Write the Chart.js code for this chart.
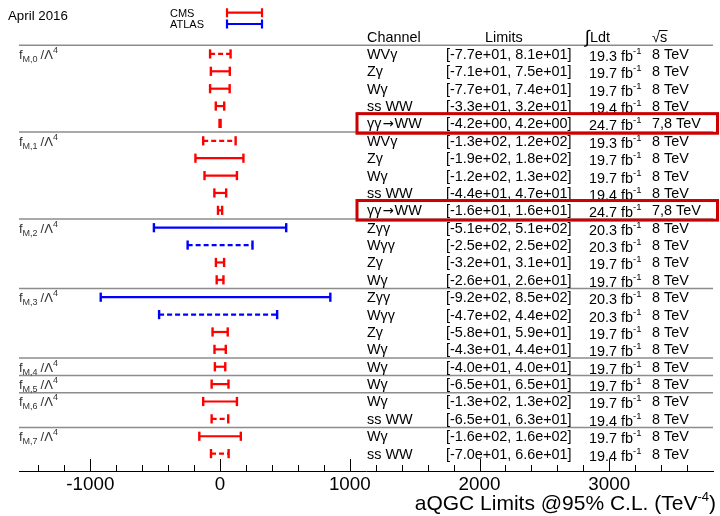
<!DOCTYPE html>
<html>
<head>
<meta charset="utf-8">
<script src="https://cdn.jsdelivr.net/npm/chart.js@4/dist/chart.umd.min.js"></script>
<style>
  html, body { margin: 0; padding: 0; background: #fff; }
  #wrap { width: 720px; height: 516px; }
</style>
</head>
<body>
<div id="wrap"><canvas id="aqgcChart"></canvas></div>
<script>
// operator groups and how many channel rows each one has
const groups = ["M,0", "M,1", "M,2", "M,3", "M,4", "M,5", "M,6", "M,7"];
const groupSizes = [5, 5, 4, 4, 1, 1, 2, 2];

// one entry per row, top to bottom
const channels = [
    "WV\u03b3", "Z\u03b3", "W\u03b3", "ss WW", "\u03b3\u03b3\u2192WW",
    "WV\u03b3", "Z\u03b3", "W\u03b3", "ss WW", "\u03b3\u03b3\u2192WW",
    "Z\u03b3\u03b3", "W\u03b3\u03b3", "Z\u03b3", "W\u03b3",
    "Z\u03b3\u03b3", "W\u03b3\u03b3", "Z\u03b3", "W\u03b3",
    "W\u03b3",
    "W\u03b3",
    "W\u03b3", "ss WW",
    "W\u03b3", "ss WW"
];
const lowLimits = [
    -77, -71, -77, -33, -4.2,
    -130, -190, -120, -44, -16,
    -510, -250, -32, -26,
    -920, -470, -58, -43,
    -40,
    -65,
    -130, -65,
    -160, -70
];
const highLimits = [
    81, 75, 74, 32, 4.2,
    120, 180, 130, 47, 16,
    510, 250, 31, 26,
    850, 440, 59, 44,
    40,
    65,
    130, 63,
    160, 66
];
const lumi = [
    19.3, 19.7, 19.7, 19.4, 24.7,
    19.3, 19.7, 19.7, 19.4, 24.7,
    20.3, 20.3, 19.7, 19.7,
    20.3, 20.3, 19.7, 19.7,
    19.7,
    19.7,
    19.7, 19.4,
    19.7, 19.4
];
const energy = [
    "8", "8", "8", "8", "7,8",
    "8", "8", "8", "8", "7,8",
    "8", "8", "8", "8",
    "8", "8", "8", "8",
    "8",
    "8",
    "8", "8",
    "8", "8"
];
const experiment = [
    "CMS", "CMS", "CMS", "CMS", "CMS",
    "CMS", "CMS", "CMS", "CMS", "CMS",
    "ATLAS", "ATLAS", "CMS", "CMS",
    "ATLAS", "ATLAS", "CMS", "CMS",
    "CMS",
    "CMS",
    "CMS", "CMS",
    "CMS", "CMS"
];
const dashed = [
    true, false, false, false, false,
    true, false, false, false, false,
    false, true, false, false,
    false, true, false, false,
    false,
    false,
    false, true,
    false, true
];
const highlighted = [
    false, false, false, false, true,
    false, false, false, false, true,
    false, false, false, false,
    false, false, false, false,
    false,
    false,
    false, false,
    false, false
];
const tickValues = [-1000, 0, 1000, 2000, 3000];
const minorStep = 200;

const FONT = '"Liberation Sans", Arial, Helvetica, sans-serif';
const SYMBOL_FONT = '"DejaVu Sans", sans-serif';
const colors = { CMS: "#ff0000", ATLAS: "#0000ff" };

function fmtExp(v) {
    const s = v.toExponential(1);
    const [m, e] = s.split("e");
    return m + "e" + e[0] + e.slice(1).padStart(2, "0");
}

// draws a run of text pieces with their own size, font and vertical shift
function drawRich(ctx, x, y, parts, color) {
    ctx.fillStyle = color;
    ctx.textBaseline = "alphabetic";
    ctx.textAlign = "left";
    parts.forEach(p => {
        ctx.font = p.size + "px " + (p.family || FONT);
        ctx.fillText(p.t, x, y + (p.dy || 0));
        x += ctx.measureText(p.t).width + (p.gap || 0);
    });
    return x;
}

// channel names: the arrow is taken from DejaVu so it is as wide as in the original
function channelParts(name, size) {
    const bits = name.split("\u2192");
    if (bits.length === 1) return [{ t: name, size: size }];
    return [
        { t: bits[0], size: size, gap: 1 },
        { t: "\u2192", size: size - 1, family: SYMBOL_FONT, gap: 1 },
        { t: bits[1], size: size }
    ];
}

function drawInterval(ctx, x1, x2, y, color) {
    ctx.strokeStyle = color;
    ctx.lineWidth = 2.2;
    ctx.beginPath();
    ctx.moveTo(x1, y); ctx.lineTo(x2, y);
    ctx.moveTo(x1, y - 4.5); ctx.lineTo(x1, y + 4.5);
    ctx.moveTo(x2, y - 4.5); ctx.lineTo(x2, y + 4.5);
    ctx.stroke();
}

const datasets = channels.map((ch, i) => {
    const c = colors[experiment[i]];
    return {
        label: ch,
        data: [{ x: lowLimits[i], y: i + 1 }, { x: highLimits[i], y: i + 1 }],
        showLine: true,
        borderColor: c,
        borderWidth: 2.2,
        borderDash: dashed[i] ? [5, 3] : [],
        pointStyle: "line",
        rotation: 90,
        pointRadius: 4.6,
        pointHoverRadius: 4.6,
        pointBorderWidth: 2.4,
        pointBorderColor: c,
        pointBackgroundColor: c
    };
});

const tableLayout = { channel: 367, limits: 446, lumi: 589, energy: 652, boxLeft: 357 };

const tablePlugin = {
    id: "tablePlugin",
    beforeDatasetsDraw(chart) {
        const { ctx, chartArea, scales: { x, y } } = chart;
        ctx.save();
        // header line and group separators
        ctx.strokeStyle = "#8c8c8c";
        ctx.lineWidth = 1.5;
        const seps = [0.5];
        let r = 0;
        groupSizes.forEach(n => { r += n; if (r < channels.length) seps.push(r + 0.5); });
        seps.forEach(v => {
            const py = y.getPixelForValue(v);
            ctx.beginPath();
            ctx.moveTo(chartArea.left, py);
            ctx.lineTo(chartArea.right, py);
            ctx.stroke();
        });
        // ticks pointing up from the axis
        ctx.strokeStyle = "#000";
        ctx.lineWidth = 1;
        const first = Math.ceil(x.min / minorStep) * minorStep;
        for (let v = first; v < x.max; v += minorStep) {
            const px = Math.round(x.getPixelForValue(v)) + 0.5;
            const len = v % 1000 === 0 ? 12 : 6;
            ctx.beginPath();
            ctx.moveTo(px, chartArea.bottom);
            ctx.lineTo(px, chartArea.bottom - len);
            ctx.stroke();
        }
        ctx.restore();
    },
    afterDatasetsDraw(chart) {
        const { ctx, scales: { y } } = chart;
        ctx.save();
        const textSize = 14.4;
        // header
        const hy = y.getPixelForValue(0) + 5.5;
        drawRich(ctx, tableLayout.channel, hy, [{ t: "Channel", size: textSize }], "#000");
        drawRich(ctx, 485, hy, [{ t: "Limits", size: textSize }], "#000");
        drawRich(ctx, tableLayout.lumi - 4, hy, [{ t: "\u222b", size: 18, dy: 1 }, { t: "Ldt", size: textSize }], "#000");
        const sx = drawRich(ctx, tableLayout.energy, hy, [{ t: "\u221a", size: textSize }], "#000");
        ctx.font = textSize + "px " + FONT;
        const sw = ctx.measureText("s").width;
        ctx.fillText("s", sx, hy);
        ctx.strokeStyle = "#000";
        ctx.lineWidth = 1;
        ctx.beginPath();
        ctx.moveTo(sx - 1, hy - 11.5);
        ctx.lineTo(sx + sw + 0.5, hy - 11.5);
        ctx.stroke();

        // rows
        channels.forEach((ch, i) => {
            const cy = y.getPixelForValue(i + 1);
            const by = cy + 5;
            drawRich(ctx, tableLayout.channel, by, channelParts(ch, textSize), "#000");
            drawRich(ctx, tableLayout.limits, by,
                [{ t: "[" + fmtExp(lowLimits[i]) + ", " + fmtExp(highLimits[i]) + "]", size: textSize }], "#000");
            drawRich(ctx, tableLayout.lumi, by + 2,
                [{ t: lumi[i].toFixed(1) + " fb", size: textSize }, { t: "-1", size: 9.5, dy: -7 }], "#000");
            drawRich(ctx, tableLayout.energy, by, [{ t: energy[i] + " TeV", size: textSize }], "#000");
            if (highlighted[i]) {
                ctx.strokeStyle = "#cc0000";
                ctx.lineWidth = 3;
                ctx.strokeRect(tableLayout.boxLeft, cy - 9.8, chart.width - 2.5 - tableLayout.boxLeft, 19.6);
            }
        });

        // group labels
        let start = 1;
        groups.forEach((g, k) => {
            const gy = y.getPixelForValue(start) + 5;
            drawRich(ctx, 19, gy, [
                { t: "f", size: 13 },
                { t: g, size: 9, dy: 3, gap: 3 },
                { t: "/\u039b", size: 13 },
                { t: "4", size: 9, dy: -6 }
            ], "#333");
            start += groupSizes[k];
        });
        ctx.restore();
    },
    afterDraw(chart) {
        const { ctx } = chart;
        ctx.save();
        // date
        drawRich(ctx, 8, 19.5, [{ t: "April 2016", size: 13.3 }], "#000");
        // legend
        drawRich(ctx, 170, 16.5, [{ t: "CMS", size: 11 }], "#000");
        drawRich(ctx, 170, 28, [{ t: "ATLAS", size: 11 }], "#000");
        drawInterval(ctx, 227, 262, 12.7, colors.CMS);
        drawInterval(ctx, 227, 262, 24, colors.ATLAS);
        // axis title, right aligned
        const main = "aQGC Limits @95% C.L. (TeV";
        ctx.font = "13px " + FONT;
        const supW = ctx.measureText("-4").width;
        ctx.font = "21px " + FONT;
        const total = ctx.measureText(main).width + supW + ctx.measureText(")").width;
        drawRich(ctx, chart.width - 4 - total, 510, [
            { t: main, size: 21 },
            { t: "-4", size: 13, dy: -9 },
            { t: ")", size: 21 }
        ], "#000");
        ctx.restore();
    }
};

new Chart(document.getElementById("aqgcChart").getContext("2d"), {
    type: "scatter",
    data: { datasets: datasets },
    options: {
        responsive: true,
        maintainAspectRatio: false,
        animation: false,
        layout: { padding: { left: 19, right: 7, top: 0, bottom: 0 } },
        plugins: { legend: { display: false }, tooltip: { enabled: false } },
        scales: {
            x: {
                type: "linear",
                min: -1550,
                max: 3800,
                grid: { display: false, drawTicks: false },
                border: { display: true, color: "#000", width: 1 },
                afterBuildTicks: s => { s.ticks = tickValues.map(v => ({ value: v })); },
                afterFit: s => { s.height = 45; },
                ticks: {
                    font: { family: FONT, size: 18.8 },
                    color: "#000",
                    padding: 3,
                    maxRotation: 0,
                    autoSkip: false,
                    callback: v => String(v)
                }
            },
            y: {
                type: "linear",
                min: -1.7,
                max: 25,
                reverse: true,
                display: false
            }
        }
    },
    plugins: [tablePlugin]
});
</script>
</body>
</html>
